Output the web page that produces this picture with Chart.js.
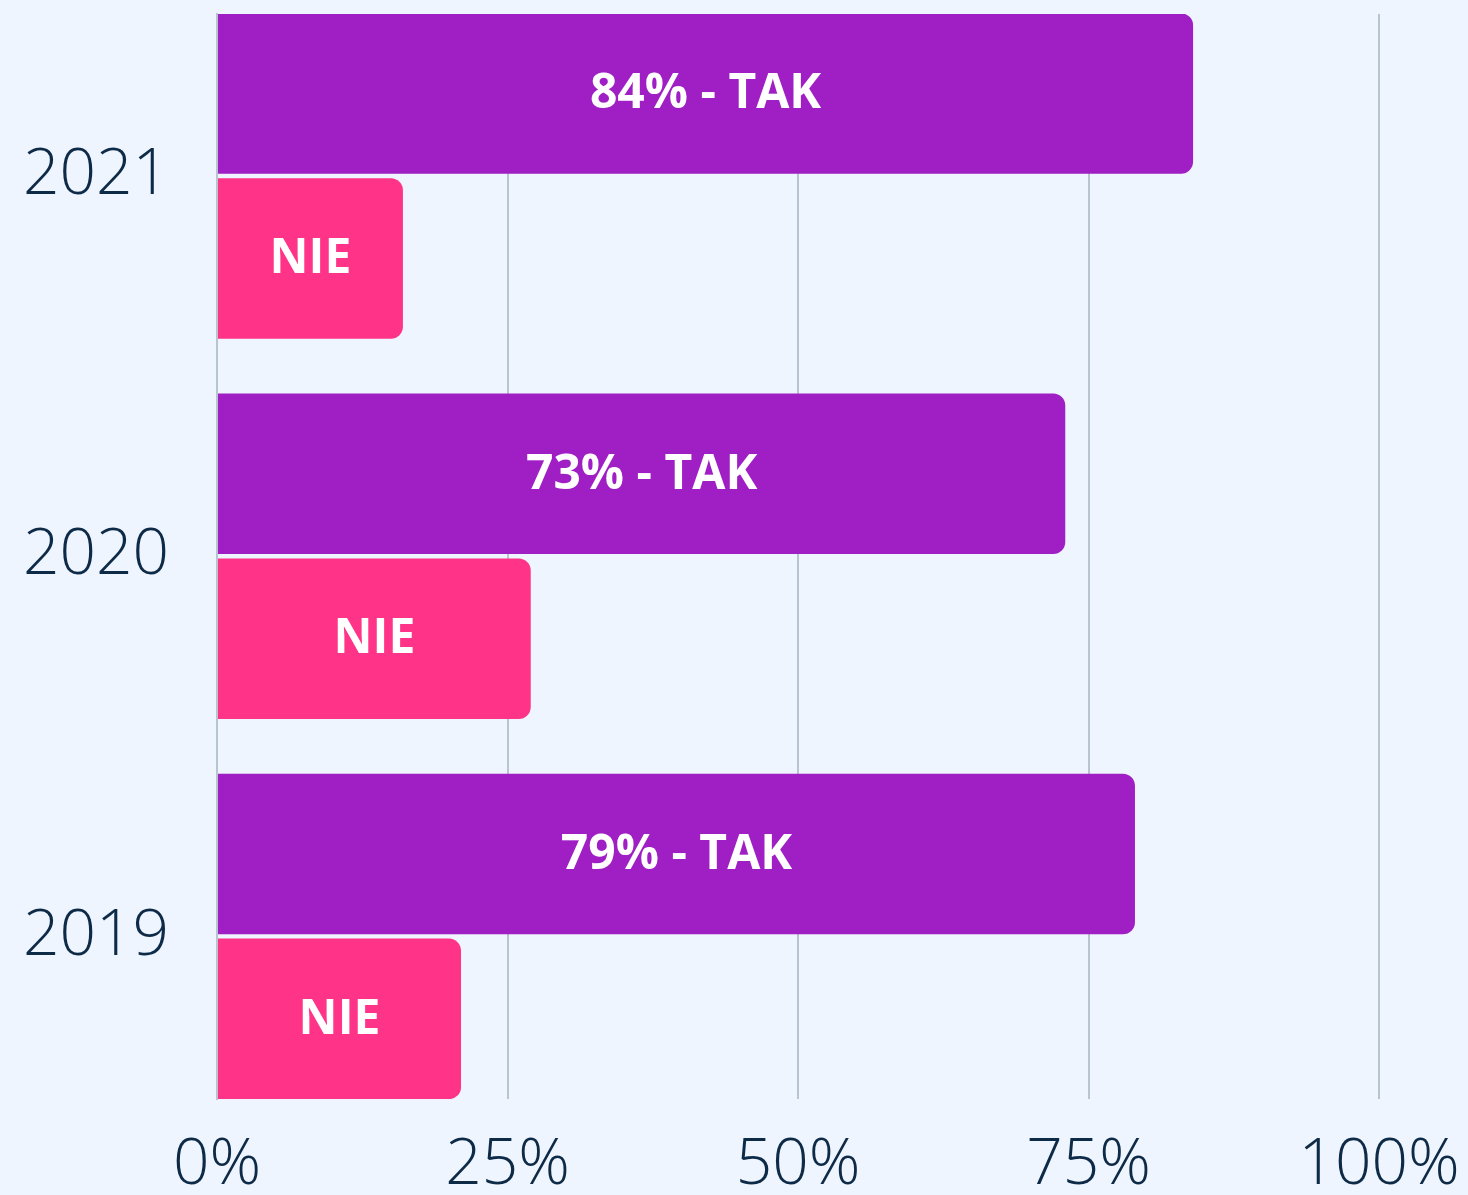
<!DOCTYPE html>
<html>
<head>
<meta charset="utf-8">
<script src="https://cdn.jsdelivr.net/npm/chart.js@4"></script>
<style>
  html, body { margin: 0; padding: 0; background: #eff5ff; }
  #wrap { width: 1468px; height: 1195px; }
</style>
</head>
<body>
<div id="wrap"><canvas id="survey-chart"></canvas></div>
<script>
// chart values
const years = ['2021', '2020', '2019'];
const takValues = [84, 73, 79];
const nieValues = [16, 27, 21];
const xTicks = [0, 25, 50, 75, 100];

const gridColor = '#b9c4d1';
const textColor = '#0d2a47';

// bar index is the year's position, so the y scale can be linear
const takData = takValues.map(function(v, i) { return { x: v, y: i }; });
const nieData = nieValues.map(function(v, i) { return { x: v, y: i }; });

// writes the labels inside the bars
const barLabels = {
    id: 'barLabels',
    afterDatasetsDraw: function(chart) {
        const ctx = chart.ctx;
        ctx.save();
        ctx.fillStyle = '#ffffff';
        ctx.font = 'bold 48px "Open Sans"';
        ctx.textAlign = 'center';
        ctx.textBaseline = 'middle';
        chart.data.datasets.forEach(function(ds, di) {
            chart.getDatasetMeta(di).data.forEach(function(bar, i) {
                const txt = di === 0 ? takValues[i] + '% - TAK' : 'NIE';
                ctx.fillText(txt, (bar.x + bar.base) / 2, bar.y + 1);
            });
        });
        ctx.restore();
    }
};

const ctx = document.getElementById('survey-chart');

new Chart(ctx, {
    type: 'bar',
    data: {
        datasets: [{
            label: 'TAK',
            data: takData,
            backgroundColor: '#9f1fc4',
            borderRadius: 12,
            borderSkipped: 'start'
        }, {
            label: 'NIE',
            data: nieData,
            backgroundColor: '#ff3388',
            borderRadius: 12,
            borderSkipped: 'start'
        }]
    },
    options: {
        indexAxis: 'y',
        responsive: true,
        maintainAspectRatio: false,
        animation: false,
        categoryPercentage: 0.8668,
        barPercentage: 0.974,
        layout: { padding: { top: 14, right: 89, left: 0, bottom: 0 } },
        plugins: {
            legend: { display: false },
            tooltip: { enabled: false }
        },
        scales: {
            x: {
                min: 0,
                max: 100,
                afterBuildTicks: function(scale) {
                    scale.ticks = xTicks.map(function(v) { return { value: v }; });
                },
                afterFit: function(scale) {
                    scale.height = 96;
                    scale.paddingLeft = 0;
                    scale.paddingRight = 0;
                },
                grid: { color: gridColor, lineWidth: 2, drawTicks: false },
                border: { display: false },
                ticks: {
                    padding: 28,
                    color: textColor,
                    font: { family: '"Open Sans"', size: 64, weight: 300 },
                    callback: function(v) { return v + '%'; }
                }
            },
            y: {
                type: 'linear',
                reverse: true,
                offset: false,
                bounds: 'data',
                grace: 0,
                min: -0.426,
                max: 2.4274,
                afterBuildTicks: function(scale) {
                    scale.ticks = years.map(function(y, i) { return { value: i }; });
                },
                afterFit: function(scale) {
                    scale.width = 217;
                    scale.paddingTop = 0;
                    scale.paddingBottom = 0;
                },
                grid: { display: false, drawTicks: false, offset: false },
                border: { display: true, color: gridColor, width: 2 },
                ticks: {
                    padding: 48,
                    autoSkip: false,
                    color: textColor,
                    font: { family: '"Open Sans"', size: 64, weight: 300 },
                    callback: function(v) { return years[v]; }
                }
            }
        }
    },
    plugins: [barLabels]
});
</script>
</body>
</html>
